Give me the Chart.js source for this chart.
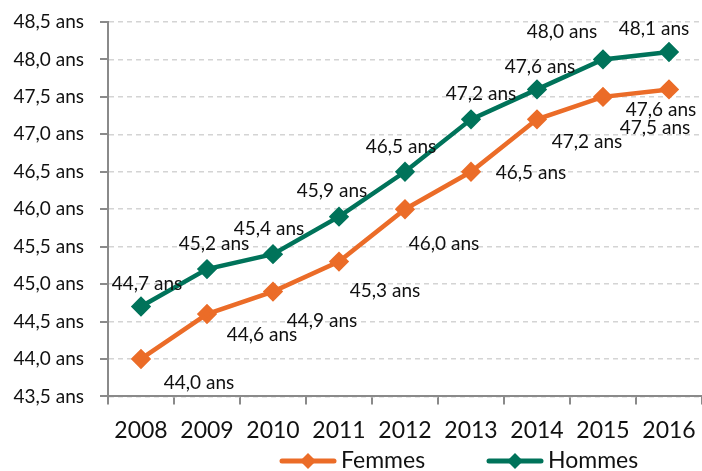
<!DOCTYPE html>
<html><head><meta charset="utf-8">
<script src="https://cdn.jsdelivr.net/npm/chart.js@4"></script>
<style>html,body{margin:0;padding:0;background:#fff}#wrap{width:702px;height:471px}</style>
</head><body><div id="wrap"><canvas id="c" width="702" height="471"></canvas></div>
<script>
// ---- data ----
const years = ['2008','2009','2010','2011','2012','2013','2014','2015','2016'];
const femmes = [44.0, 44.6, 44.9, 45.3, 46.0, 46.5, 47.2, 47.5, 47.6];
const hommes = [44.7, 45.2, 45.4, 45.9, 46.5, 47.2, 47.6, 48.0, 48.1];
const seriesNames = ['Femmes', 'Hommes'];
const yMin = 43.5, yMax = 48.5, yStep = 0.5;
const unit = ' ans';

// ---- style ----
const ORANGE = '#EB6C28';
const GREEN = '#00735A';
const TEXT = '#111111';
const AXIS = '#8a8a8a';
const FONT = 'Lato';
// manual label offsets (px) like the original's hand-placed data labels
const labelOffsets = [
  [[58,24],[55,21],[49,29],[46,29],[39,35],[60,1],[50,23],[52,31],[-8,20]],
  [[6,-23],[7,-25],[-4,-25],[-7,-26],[-4,-25],[10,-25],[3,-23],[-41,-28],[-15,-23]]
];
// legend item start x (px) and row
const legendX = [280, 487];
const legendY = 461;
const fmt = v => v.toFixed(1).replace('.', ',') + unit;

const dataLabels = {
  id: 'dataLabels',
  afterDatasetsDraw(chart) {
    const ctx = chart.ctx;
    ctx.save();
    ctx.font = '19px ' + FONT;
    ctx.fillStyle = TEXT;
    ctx.textAlign = 'center';
    ctx.textBaseline = 'middle';
    chart.data.datasets.forEach((ds, di) => {
      const meta = chart.getDatasetMeta(di);
      meta.data.forEach((pt, i) => {
        const o = labelOffsets[di][i];
        ctx.fillText(fmt(ds.data[i]), pt.x + o[0], pt.y + o[1]);
      });
    });
    ctx.restore();
  }
};

const customLegend = {
  id: 'customLegend',
  afterDraw(chart) {
    const ctx = chart.ctx;
    ctx.save();
    chart.data.datasets.forEach((ds, i) => {
      const x = legendX[i], y = legendY, c = ds.borderColor;
      ctx.strokeStyle = c; ctx.lineWidth = 5; ctx.lineCap = 'round';
      ctx.beginPath(); ctx.moveTo(x + 2, y); ctx.lineTo(x + 54, y); ctx.stroke();
      ctx.fillStyle = c;
      ctx.beginPath(); ctx.moveTo(x + 28, y - 8); ctx.lineTo(x + 36, y); ctx.lineTo(x + 28, y + 8); ctx.lineTo(x + 20, y); ctx.closePath(); ctx.fill();
      ctx.fillStyle = TEXT;
      ctx.font = '23px ' + FONT;
      ctx.textAlign = 'left'; ctx.textBaseline = 'middle';
      ctx.fillText(ds.label, x + 61, y);
    });
    ctx.restore();
  }
};

const yTicks = {
  id: 'yTicks',
  beforeDatasetsDraw(chart) {
    const y = chart.scales.y, ctx = chart.ctx;
    const x0 = chart.chartArea.left;
    ctx.save();
    ctx.strokeStyle = AXIS; ctx.lineWidth = 2;
    y.ticks.forEach(t => {
      const py = Math.round(y.getPixelForValue(t.value));
      ctx.beginPath(); ctx.moveTo(x0 - 8, py); ctx.lineTo(x0, py); ctx.stroke();
    });
    ctx.restore();
  }
};

new Chart(document.getElementById('c'), {
  type: 'line',
  data: {
    labels: years,
    datasets: [
      { label: seriesNames[0], data: femmes, borderColor: ORANGE, backgroundColor: ORANGE,
        borderWidth: 4.5, pointStyle: 'rectRot', pointRadius: 7, pointHoverRadius: 7,
        pointBackgroundColor: ORANGE, pointBorderColor: ORANGE, tension: 0 },
      { label: seriesNames[1], data: hommes, borderColor: GREEN, backgroundColor: GREEN,
        borderWidth: 4.5, pointStyle: 'rectRot', pointRadius: 7, pointHoverRadius: 7,
        pointBackgroundColor: GREEN, pointBorderColor: GREEN, tension: 0 }
    ]
  },
  options: {
    responsive: false,
    animation: false,
    devicePixelRatio: 1,
    layout: { autoPadding: false, padding: { left: 0, right: 0, top: 0, bottom: 15 } },
    plugins: {
      tooltip: { enabled: false },
      legend: { display: false }
    },
    scales: {
      x: {
        offset: true,
        afterFit(s) { s.paddingRight = 0; s.paddingLeft = 0; },
        grid: { display: true, offset: true, drawOnChartArea: false, drawTicks: true, tickLength: 8, color: AXIS, lineWidth: 2 },
        border: { display: true, color: AXIS, width: 2 },
        ticks: { color: TEXT, font: { family: FONT, size: 23 }, padding: 12, maxRotation: 0 }
      },
      y: {
        min: yMin, max: yMax,
        afterFit(s) { s.width = 108; s.paddingTop = 22; },
        grid: { color: '#D4D4D4', lineWidth: 1.5, drawTicks: false },
        border: { display: true, color: AXIS, width: 2, dash: [5, 4] },
        ticks: { stepSize: yStep, color: TEXT, font: { family: FONT, size: 19, lineHeight: 0.5 }, padding: 24,
                 callback: v => fmt(v) }
      }
    }
  },
  plugins: [yTicks, dataLabels, customLegend]
});
</script>
</body></html>
